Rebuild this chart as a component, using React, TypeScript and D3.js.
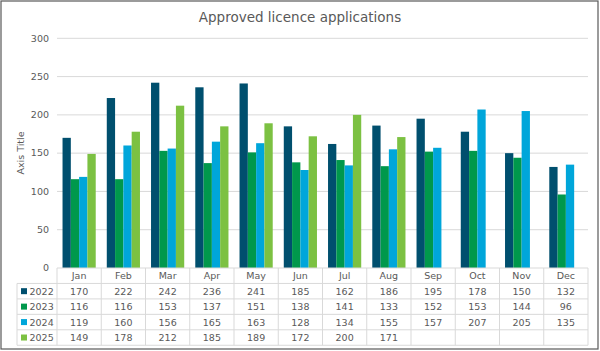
import React from "react";
import * as d3 from "d3";

// Chart data
const months = ["Jan", "Feb", "Mar", "Apr", "May", "Jun", "Jul", "Aug", "Sep", "Oct", "Nov", "Dec"];
const seriesNames = ["2022", "2023", "2024", "2025"];
const values2022 = [170, 222, 242, 236, 241, 185, 162, 186, 195, 178, 150, 132];
const values2023 = [116, 116, 153, 137, 151, 138, 141, 133, 152, 153, 144, 96];
const values2024 = [119, 160, 156, 165, 163, 128, 134, 155, 157, 207, 205, 135];
const values2025: (number | null)[] = [149, 178, 212, 185, 189, 172, 200, 171, null, null, null, null];
const yTicks = [0, 50, 100, 150, 200, 250, 300];

const seriesColors = ["#004f6e", "#00984c", "#00a6da", "#7cc142"];
const allSeries = [values2022, values2023, values2024, values2025];

/** Style variables. */
const W = 600;
const H = 351;
const font = "'DejaVu Sans', Verdana, sans-serif";
const textColor = "#595959";
const gridColor = "#d9d9d9";

export default function App() {
  // Plot area
  const left = 57, right = 588, top = 38.3, bottom = 268;
  const rowH = 15.45;
  const tableLeft = 17;

  const x0 = d3
    .scaleBand<string>()
    .domain(months)
    .range([left, right])
    .paddingInner(0.25)
    .paddingOuter(0.125);
  const x1 = d3
    .scaleBand<string>()
    .domain(seriesNames)
    .range([0, x0.bandwidth()]);
  const y = d3.scaleLinear().domain([0, 300]).range([bottom, top]);

  // Column edges for the data table
  const step = (right - left) / months.length;
  const colEdges = d3.range(months.length + 1).map((i) => left + i * step);

  return (
    <svg
      width={W}
      height={H}
      style={{ position: "absolute", left: 0, top: 0, fontFamily: font }}
    >
      <rect x={0} y={0} width={W} height={H} fill="#fff" />
      <rect x={1} y={1} width={597} height={348} fill="none" stroke="#595959" strokeWidth={1.2} />

      {/* Title */}
      <text x={300} y={22} textAnchor="middle" fontSize={13.5} fill={textColor}>
        Approved licence applications
      </text>

      {/* Axis title */}
      <text
        transform={`translate(24,153) rotate(-90)`}
        textAnchor="middle"
        fontSize={9.5}
        fill={textColor}
      >
        Axis Title
      </text>

      {/* Gridlines and y ticks */}
      {yTicks.map((t) => (
        <g key={t}>
          {t > 0 && (
            <line x1={left} x2={right} y1={y(t)} y2={y(t)} stroke={gridColor} strokeWidth={1} />
          )}
          <text x={49} y={y(t)} dy="0.35em" textAnchor="end" fontSize={9.5} fill={textColor}>
            {t}
          </text>
        </g>
      ))}

      {/* Bars */}
      {months.map((m, i) => (
        <g key={m} transform={`translate(${x0(m)},0)`}>
          {allSeries.map((vals, s) => {
            const v = vals[i];
            if (v == null) return null;
            return (
              <rect
                key={s}
                x={x1(seriesNames[s])}
                y={y(v)}
                width={x1.bandwidth()}
                height={bottom - y(v)}
                fill={seriesColors[s]}
              />
            );
          })}
        </g>
      ))}

      {/* Data table: horizontal lines */}
      {d3.range(6).map((r) => (
        <line
          key={r}
          x1={r === 0 ? left : tableLeft}
          x2={right}
          y1={bottom + r * rowH}
          y2={bottom + r * rowH}
          stroke={gridColor}
          strokeWidth={1}
        />
      ))}
      {/* vertical lines */}
      <line x1={tableLeft} x2={tableLeft} y1={bottom + rowH} y2={bottom + 5 * rowH} stroke={gridColor} />
      {colEdges.map((cx, i) => (
        <line key={i} x1={cx} x2={cx} y1={bottom} y2={bottom + 5 * rowH} stroke={gridColor} />
      ))}

      {/* Month headers */}
      {months.map((m, i) => (
        <text
          key={m}
          x={colEdges[i] + step / 2}
          y={bottom + rowH / 2}
          dy="0.38em"
          textAnchor="middle"
          fontSize={9.5}
          fill={textColor}
        >
          {m}
        </text>
      ))}

      {/* Series rows */}
      {allSeries.map((vals, s) => {
        const cy = bottom + rowH * (s + 1) + rowH / 2;
        return (
          <g key={s}>
            <rect x={21} y={cy - 3} width={6} height={6} fill={seriesColors[s]} />
            <text x={29.5} y={cy} dy="0.38em" fontSize={9.5} fill={textColor}>
              {seriesNames[s]}
            </text>
            {vals.map((v, i) =>
              v == null ? null : (
                <text
                  key={i}
                  x={colEdges[i] + step / 2}
                  y={cy}
                  dy="0.38em"
                  textAnchor="middle"
                  fontSize={9.5}
                  fill={textColor}
                >
                  {v}
                </text>
              )
            )}
          </g>
        );
      })}
    </svg>
  );
}
